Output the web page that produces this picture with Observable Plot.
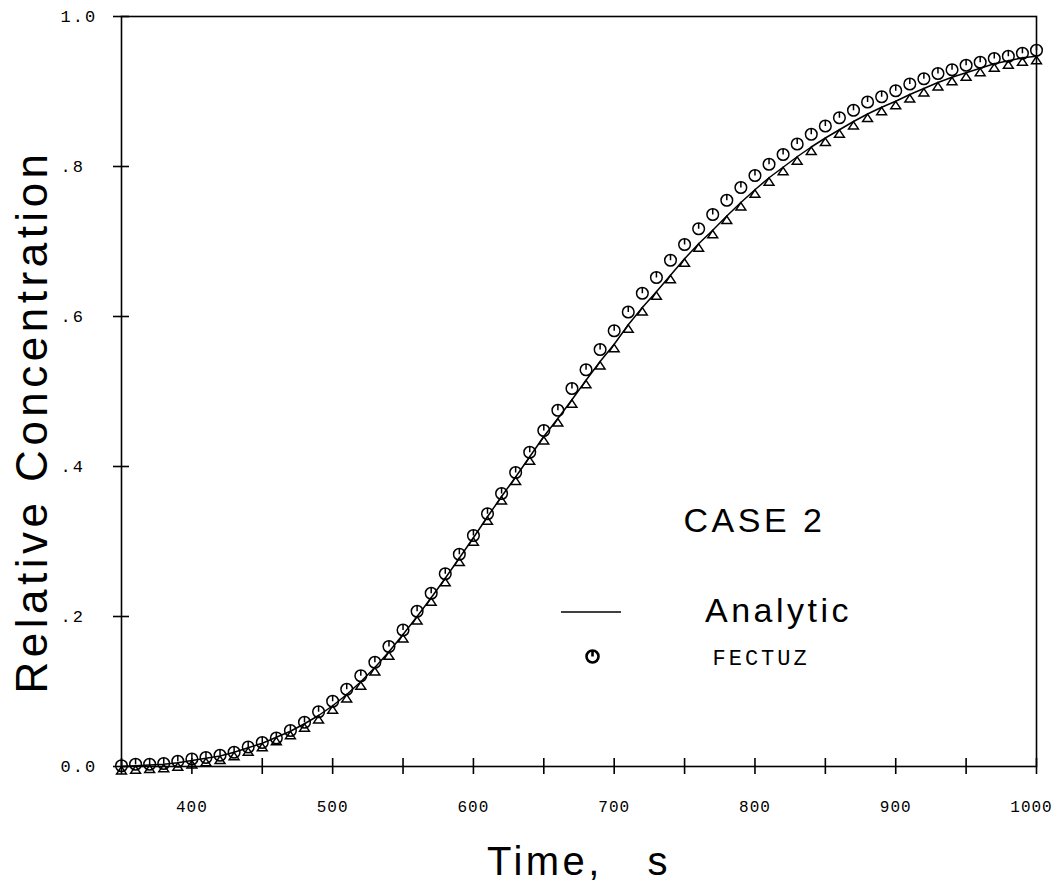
<!DOCTYPE html>
<html>
<head>
<meta charset="utf-8">
<script src="https://cdn.jsdelivr.net/npm/d3@7"></script>
<script src="https://cdn.jsdelivr.net/npm/@observablehq/plot@0.6"></script>
<style>
  body { margin: 0; background: #fff; }
  #chart svg { display: block; background: #fff; }
  g[aria-label="x-axis tick label"] text { letter-spacing: 1px; }
  g[aria-label="y-axis tick label"] text { letter-spacing: 2px; }
  .tracked text { letter-spacing: 3.5px; }
  .ytitle text { letter-spacing: 4.5px; }
  .xtitle text { letter-spacing: 3.5px; word-spacing: 30px; }
  .fect text { letter-spacing: 3px; }
</style>
</head>
<body>
<div id="chart"></div>
<script>
// ---- data ----
const times = [
  350, 360, 370, 380, 390, 400, 410, 420, 430, 440,
  450, 460, 470, 480, 490, 500, 510, 520, 530, 540,
  550, 560, 570, 580, 590, 600, 610, 620, 630, 640,
  650, 660, 670, 680, 690, 700, 710, 720, 730, 740,
  750, 760, 770, 780, 790, 800, 810, 820, 830, 840,
  850, 860, 870, 880, 890, 900, 910, 920, 930, 940,
  950, 960, 970, 980, 990, 1000
];
const analytic = [
  0.000, 0.001, 0.002, 0.003, 0.005, 0.008, 0.011, 0.014, 0.019, 0.025,
  0.031, 0.039, 0.047, 0.057, 0.068, 0.081, 0.096, 0.113, 0.132, 0.153,
  0.176, 0.200, 0.225, 0.251, 0.278, 0.305, 0.333, 0.360, 0.386, 0.413,
  0.440, 0.464, 0.489, 0.515, 0.540, 0.563, 0.589, 0.612, 0.633, 0.655,
  0.677, 0.697, 0.715, 0.734, 0.752, 0.769, 0.785, 0.799, 0.813, 0.826,
  0.838, 0.849, 0.860, 0.870, 0.879, 0.887, 0.896, 0.904, 0.912, 0.919,
  0.925, 0.931, 0.937, 0.941, 0.945, 0.947
];
const fectuz = [
  0.001, 0.003, 0.003, 0.004, 0.007, 0.010, 0.012, 0.015, 0.019, 0.026,
  0.032, 0.038, 0.048, 0.059, 0.073, 0.087, 0.103, 0.121, 0.139, 0.160,
  0.182, 0.207, 0.231, 0.257, 0.283, 0.308, 0.337, 0.364, 0.392, 0.419,
  0.448, 0.475, 0.504, 0.529, 0.556, 0.581, 0.606, 0.631, 0.652, 0.675,
  0.696, 0.717, 0.736, 0.755, 0.772, 0.788, 0.803, 0.816, 0.830, 0.843,
  0.854, 0.865, 0.875, 0.886, 0.893, 0.901, 0.910, 0.917, 0.924, 0.929,
  0.935, 0.939, 0.944, 0.947, 0.951, 0.955
];
const xTicks = [350, 400, 450, 500, 550, 600, 650, 700, 750, 800, 850, 900, 950, 1000];
const xTickLabels = ["", "400", "", "500", "", "600", "", "700", "", "800", "", "900", "", "1000"];
const yTicks = [0, 0.2, 0.4, 0.6, 0.8, 1.0];
const yTickLabels = ["0.0", ".2", ".4", ".6", ".8", "1.0"];
const xTitle = "Time, s";
const yTitle = "Relative Concentration";
const caseLabel = "CASE 2";
const seriesNames = ["Analytic", "FECTUZ"];

// ---- build tables ----
const analyticData = times.map((t, i) => ({t, c: analytic[i]}));
const fectuzData = times.map((t, i) => ({t, c: fectuz[i]}));
const xLabel = d => xTickLabels[xTicks.indexOf(d)];
const lastTick = xTicks[xTicks.length - 1];

// circle with a short vertical stroke from top to centre
const circleTick = {
  draw(ctx, size) {
    const r = Math.sqrt(size / Math.PI);
    ctx.moveTo(r, 0);
    ctx.arc(0, 0, r, 0, 2 * Math.PI);
    ctx.moveTo(0, -r);
    ctx.lineTo(0, 0);
  }
};
// open triangle hanging below the point (apex on the curve)
const triangleHang = {
  draw(ctx, size) {
    const r = Math.sqrt(size / Math.PI);
    const w = r * 2.0, h = r * 1.5;
    ctx.moveTo(0, 0);
    ctx.lineTo(-w / 2, h);
    ctx.lineTo(w / 2, h);
    ctx.closePath();
  }
};

const mono = "'Liberation Mono', 'DejaVu Sans Mono', monospace";
const sans = "'Liberation Sans', Arial, Helvetica, sans-serif";

const chart = Plot.plot({
  width: 1055,
  height: 888,
  marginLeft: 121,
  marginRight: 19,
  marginTop: 16,
  marginBottom: 122,
  x: {domain: [350, 1000]},
  y: {domain: [0, 1]},
  style: {background: "#fff", color: "black"},
  marks: [
    Plot.frame({stroke: "black", strokeWidth: 1.6}),
    Plot.axisX({
      ticks: xTicks, tickSize: 16, dy: -8, tickPadding: 26, strokeWidth: 1.6,
      tickFormat: d => (d === lastTick ? "" : xLabel(d)),
      fontFamily: mono, fontSize: 16, label: null, stroke: "black", fill: "black"
    }),
    Plot.axisX({
      ticks: [lastTick], tickSize: 0, dx: -5, dy: -8, tickPadding: 42,
      tickFormat: xLabel,
      fontFamily: mono, fontSize: 16, label: null, fill: "black"
    }),
    Plot.axisY({
      ticks: yTicks, tickSize: 16, dx: 8, tickPadding: 53, strokeWidth: 1.6,
      textAnchor: "start",
      tickFormat: d => yTickLabels[yTicks.indexOf(d)],
      fontFamily: mono, fontSize: 17, label: null, stroke: "black", fill: "black"
    }),
    Plot.line(analyticData, {x: "t", y: "c", stroke: "black", strokeWidth: 1.5}),
    Plot.dot(analyticData, {x: "t", y: "c", symbol: triangleHang, r: 5, stroke: "black", strokeWidth: 1.4, fill: "none"}),
    Plot.dot(fectuzData, {x: "t", y: "c", symbol: circleTick, r: 5.8, stroke: "black", strokeWidth: 1.5, fill: "none"}),
    // axis titles
    Plot.text([yTitle], {frameAnchor: "left", textAnchor: "middle", lineAnchor: "middle", dx: -89, dy: 30, rotate: -90, fontSize: 44, fontFamily: sans, fill: "black", className: "ytitle"}),
    Plot.text([xTitle], {frameAnchor: "bottom", textAnchor: "middle", lineAnchor: "middle", dx: 0, dy: 96, fontSize: 40, fontFamily: sans, fill: "black", className: "xtitle"}),
    // annotation and legend
    Plot.text([caseLabel], {frameAnchor: "top-left", textAnchor: "middle", lineAnchor: "middle", dx: 633, dy: 505, fontSize: 34, fontFamily: sans, fill: "black", className: "tracked"}),
    Plot.text([seriesNames[0]], {frameAnchor: "top-left", textAnchor: "middle", lineAnchor: "middle", dx: 657, dy: 595, fontSize: 34, fontFamily: sans, fill: "black", className: "tracked"}),
    Plot.dot([0], {x: null, y: null, frameAnchor: "top-left", dx: 471, dy: 640, r: 6, symbol: circleTick, stroke: "black", strokeWidth: 2.6, fill: "none"}),
    Plot.text([seriesNames[1]], {frameAnchor: "top-left", textAnchor: "start", lineAnchor: "middle", dx: 591, dy: 641, fontSize: 22, fontFamily: mono, fill: "black", className: "fect"})
  ]
});

// legend sample line for the analytic curve
d3.select(chart).append("line")
  .attr("x1", 561).attr("x2", 621).attr("y1", 612).attr("y2", 612)
  .attr("stroke", "black").attr("stroke-width", 1.6);

document.getElementById("chart").appendChild(chart);
</script>
</body>
</html>
